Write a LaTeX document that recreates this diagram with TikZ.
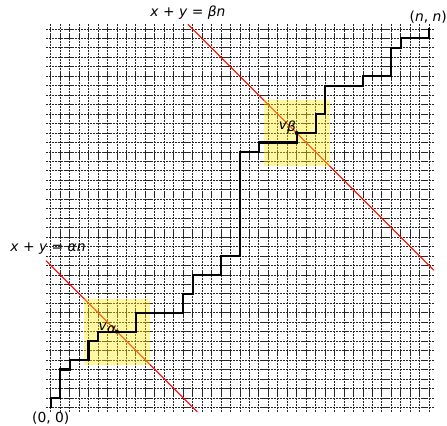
\documentclass[tikz,border=0pt]{standalone}
\usepackage{fontspec}
\setmainfont{DejaVu Sans}
\begin{document}
\begin{tikzpicture}[x=0.25cm,y=0.25cm,
  gridline/.style={black!85,line width=0.6pt,dash pattern=on 1.6pt off 0.6pt},
  redline/.style={red,line width=0.8pt},
  hilite/.style={fill={rgb,255:red,255;green,235;blue,20},fill opacity=0.4,draw=none},
  walk/.style={black,line width=1.6pt,line cap=rect,line join=miter},
  lbl/.style={font=\fontsize{10.4pt}{12pt}\selectfont,inner sep=0pt},
  dotmark/.style={circle,fill=black,inner sep=0pt,minimum size=3pt}]
\useasboundingbox (-5.36,-1.87) rectangle (41.89,43.06);
% grid
\foreach \i in {0,...,40}{
  \draw[gridline] (\i,-0.5) -- (\i,40.5);
  \draw[gridline] (-0.5,\i) -- (40.5,\i);
}
% red lines
\coordinate (a1) at (-0.5,15.5);
\coordinate (a2) at (15.5,-0.5);
\coordinate (b1) at (14.5,40.5);
\coordinate (b2) at (40.5,14.5);
\draw[redline] (a1) -- (a2);
\draw[redline] (b1) -- (b2);
% highlight boxes
\fill[hilite] (3.5,4.5) rectangle (10.5,11.5);
\fill[hilite] (22.5,25.5) rectangle (29.5,32.5);
% path
\draw[walk] (0,0) -- (0,1) -- (1,1) -- (1,4) -- (2,4) -- (2,5) -- (4,5) -- (4,7)
  -- (5,7) -- (5,8) -- (9,8) -- (9,10) -- (14,10) -- (14,12) -- (15,12) -- (15,14)
  -- (18,14) -- (18,16) -- (20,16) -- (20,27) -- (22,27) -- (22,28) -- (26,28)
  -- (26,29) -- (28,29) -- (28,31) -- (29,31) -- (29,34) -- (33,34) -- (33,35)
  -- (36,35) -- (36,38) -- (37,38) -- (37,39) -- (40,39) -- (40,40);
% intersection points
\node[dotmark] (va) at (7,8) {};
\node[dotmark] (vb) at (26,29) {};
\node[lbl,anchor=south east] (lva) at (6.95,7.8) {\textit{v}\raisebox{-0.35ex}{\textit{α}}};
\node[lbl,anchor=south east] (lvb) at (25.95,28.8) {\textit{v}\raisebox{-0.35ex}{\textit{β}}};
% labels
\node[lbl] (lb) at (14.51,41.68) {\textit{x} + \textit{y} = \textit{βn}};
\node[lbl] (la) at (-0.29,16.73) {\textit{x} + \textit{y} = \textit{αn}};
\node[lbl] (nn) at (39.9,41.2) {(\textit{n}, \textit{n})};
\node[lbl] (oo) at (0,-1.16) {(0, 0)};
\end{tikzpicture}
\end{document}
